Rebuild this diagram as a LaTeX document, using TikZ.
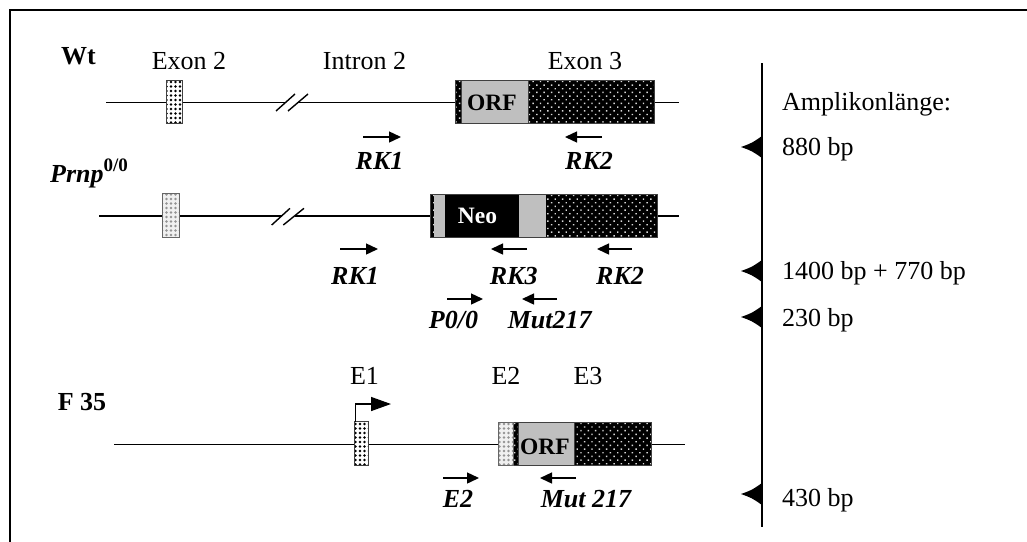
\documentclass[tikz,border=0pt]{standalone}
\usepackage{fontspec}
\setmainfont{Liberation Serif}
\usetikzlibrary{arrows.meta,patterns.meta}

\begin{document}
\begin{tikzpicture}[
    x=1pt, y=-1pt,
    txt/.style={font=\fontsize{26}{30}\selectfont, inner sep=0pt, text height=17pt, text depth=0pt},
    title/.style={txt, font=\fontsize{26}{30}\selectfont\bfseries},
    primer/.style={txt, font=\fontsize{26}{30}\selectfont\bfseries\itshape},
    inbox/.style={txt, text height=15.5pt, font=\fontsize{23.5}{28}\selectfont\bfseries},
    pline/.style={line width=1.4pt, -{Triangle[length=12pt,width=11pt]}},
    gene/.style={line width=1.4pt},
    exonw/.style={draw=black!75, line width=0.9pt, preaction={fill=white}, pattern={Dots[distance=4.5pt,radius=1.3pt]}, pattern color=black},
    exong/.style={draw=black!60, line width=0.9pt, preaction={fill=gray!12}, pattern={Dots[distance=4.5pt,radius=1.3pt]}, pattern color=gray!85},
    utr/.style={draw=black!75, line width=0.9pt, preaction={fill=black}, pattern={Dots[distance=5.2pt,radius=1pt,angle=45]}, pattern color=white!85!black},
    orf/.style={draw=black!75, line width=0.9pt, fill=gray!50},
    band/.style={fill=black}
  ]
  \useasboundingbox (0,0) rectangle (1027,541);
  \draw[line width=2pt] (9.5,560) -- (9.5,9.5) -- (1040,9.5);

  % Wt
  \node[title] (wt) at (78.5,56) {Wt};
  \node[txt] (ex2) at (189,61) {Exon 2};
  \node[txt] (in2) at (364.5,61) {Intron 2};
  \node[txt] (ex3) at (585,61) {Exon 3};
  \draw[gene] (106,102.5) -- (285.5,102.5) (298,102.5) -- (679,102.5);
  \draw[gene] (276,111) -- (295,94) (288,111) -- (308,94);
  \draw[exonw] (166.7,80) rectangle (182.7,123);
  \draw[utr] (455,80) rectangle (654,123);
  \draw[orf] (461.5,80) rectangle (528,123);
  \node[inbox] (orfwt) at (492,103) {ORF};
  \draw[pline] (363,137) -- (401,137);
  \node[primer] (rk1wt) at (379.5,161) {RK1};
  \draw[pline] (602,137) -- (565,137);
  \node[primer] (rk2wt) at (589,161) {RK2};

  % Prnp 0/0
  \node[primer, anchor=west] (prnp) at (50,174) {Prnp\raisebox{0.42em}{\fontsize{19}{20}\selectfont\upshape 0/0}};
  \draw[gene] (99,216) -- (281.6,216) (294.5,216) -- (679,216);
  \draw[gene] (271.7,225) -- (290,208.3) (283.3,225) -- (304,208.3);
  \draw[exong] (162.7,193.5) rectangle (179,237);
  \draw[utr] (430,194) rectangle (657,237);
  \fill[gray!50] (434,194) rectangle (445,237);
  \fill[band] (445,194) rectangle (519,237);
  \fill[gray!50] (519,194) rectangle (546,237);
  \draw[black!75, line width=0.9pt] (430,194) rectangle (657,237);
  \node[inbox, text=white] (neo) at (477.5,216) {Neo};
  \draw[pline] (340,249) -- (378,249);
  \node[primer] (rk1ko) at (355,276) {RK1};
  \draw[pline] (527,249) -- (491,249);
  \node[primer] (rk3ko) at (513.7,276) {RK3};
  \draw[pline] (632,249) -- (597,249);
  \node[primer] (rk2ko) at (620,276) {RK2};
  \draw[pline] (447,299) -- (483,299);
  \node[primer] (p00) at (453.5,320) {P0/0};
  \draw[pline] (557,299) -- (522,299);
  \node[primer] (mut217) at (549.7,320) {Mut217};

  % F 35
  \node[title] (f35) at (82,402) {F 35};
  \node[txt] (e1) at (364.5,376) {E1};
  \node[txt] (e2) at (506,376) {E2};
  \node[txt] (e3) at (588,376) {E3};
  \draw[gene] (114,444.5) -- (685,444.5);
  \draw[exonw] (354.3,421.7) rectangle (368.3,465);
  \draw[line width=1.4pt, -{Triangle[length=20pt,width=14pt]}] (355.5,421.7) -- (355.5,404) -- (391,404);
  \draw[utr] (498.3,422) rectangle (651.7,465.7);
  \draw[exong] (498.3,422) rectangle (513.3,465.7);
  \draw[orf] (518.3,422) rectangle (574,465.7);
  \node[inbox] (orff35) at (545,447) {ORF};
  \draw[pline] (443,478) -- (479,478);
  \node[primer] (e2p) at (458,499) {E2};
  \draw[pline] (576,478) -- (540,478);
  \node[primer] (mut) at (586,499) {Mut 217};

  % Amplikone
  \draw[line width=1.8pt] (762,63) -- (762,527);
  \foreach \yy in {147,271,317,494}
    \fill (762,\yy-11) .. controls (752,\yy-4) .. (741,\yy) .. controls (752,\yy+4) .. (762,\yy+11) -- cycle;
  \node[txt, anchor=west] (amp) at (782,101.5) {Amplikonlänge:};
  \node[txt, anchor=west] (bp880) at (782,147) {880 bp};
  \node[txt, anchor=west] (bp1400) at (782,271) {1400 bp + 770 bp};
  \node[txt, anchor=west] (bp230) at (782,318) {230 bp};
  \node[txt, anchor=west] (bp430) at (782,497.5) {430 bp};
\end{tikzpicture}
\end{document}
